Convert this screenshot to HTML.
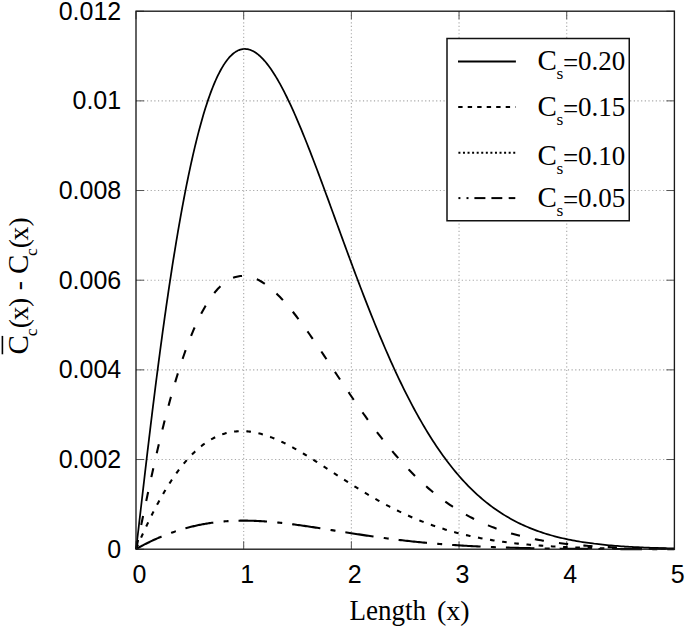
<!DOCTYPE html>
<html><head><meta charset="utf-8"><style>
html,body{margin:0;padding:0;background:#fff;}
svg{display:block;}
</style></head><body>
<svg width="685" height="629" viewBox="0 0 685 629">
<rect width="685" height="629" fill="#fff"/>
<g stroke="#a8a8a8" stroke-width="1.1" stroke-dasharray="1.2 2.46" fill="none">
<line x1="243.68" y1="11.2" x2="243.68" y2="549.2"/>
<line x1="351.36" y1="11.2" x2="351.36" y2="549.2"/>
<line x1="459.04" y1="11.2" x2="459.04" y2="549.2"/>
<line x1="566.72" y1="11.2" x2="566.72" y2="549.2"/>
<line x1="136.0" y1="459.53" x2="674.4" y2="459.53"/>
<line x1="136.0" y1="369.87" x2="674.4" y2="369.87"/>
<line x1="136.0" y1="280.20" x2="674.4" y2="280.20"/>
<line x1="136.0" y1="190.53" x2="674.4" y2="190.53"/>
<line x1="136.0" y1="100.87" x2="674.4" y2="100.87"/>
</g>
<g stroke="#555" stroke-width="1" fill="none">
<line x1="136.00" y1="549.2" x2="136.00" y2="541.2"/>
<line x1="136.00" y1="11.2" x2="136.00" y2="19.2"/>
<line x1="243.68" y1="549.2" x2="243.68" y2="541.2"/>
<line x1="243.68" y1="11.2" x2="243.68" y2="19.2"/>
<line x1="351.36" y1="549.2" x2="351.36" y2="541.2"/>
<line x1="351.36" y1="11.2" x2="351.36" y2="19.2"/>
<line x1="459.04" y1="549.2" x2="459.04" y2="541.2"/>
<line x1="459.04" y1="11.2" x2="459.04" y2="19.2"/>
<line x1="566.72" y1="549.2" x2="566.72" y2="541.2"/>
<line x1="566.72" y1="11.2" x2="566.72" y2="19.2"/>
<line x1="674.40" y1="549.2" x2="674.40" y2="541.2"/>
<line x1="674.40" y1="11.2" x2="674.40" y2="19.2"/>
<line x1="136.0" y1="549.20" x2="144.0" y2="549.20"/>
<line x1="674.4" y1="549.20" x2="666.4" y2="549.20"/>
<line x1="136.0" y1="459.53" x2="144.0" y2="459.53"/>
<line x1="674.4" y1="459.53" x2="666.4" y2="459.53"/>
<line x1="136.0" y1="369.87" x2="144.0" y2="369.87"/>
<line x1="674.4" y1="369.87" x2="666.4" y2="369.87"/>
<line x1="136.0" y1="280.20" x2="144.0" y2="280.20"/>
<line x1="674.4" y1="280.20" x2="666.4" y2="280.20"/>
<line x1="136.0" y1="190.53" x2="144.0" y2="190.53"/>
<line x1="674.4" y1="190.53" x2="666.4" y2="190.53"/>
<line x1="136.0" y1="100.87" x2="144.0" y2="100.87"/>
<line x1="674.4" y1="100.87" x2="666.4" y2="100.87"/>
<line x1="136.0" y1="11.20" x2="144.0" y2="11.20"/>
<line x1="674.4" y1="11.20" x2="666.4" y2="11.20"/>
</g>
<g stroke="#000" fill="none" stroke-linejoin="round">

<path d="M136.00,549.20 L136.04,548.96 L136.11,548.43 L136.22,547.66 L136.34,546.70 L136.49,545.55 L136.65,544.24 L136.84,542.77 L137.03,541.14 L137.25,539.38 L137.48,537.47 L137.72,535.44 L137.98,533.27 L138.25,530.99 L138.53,528.58 L138.83,526.06 L139.13,523.43 L139.45,520.69 L139.78,517.85 L140.13,514.91 L140.48,511.87 L140.84,508.73 L141.22,505.50 L141.60,502.18 L142.00,498.77 L142.40,495.28 L142.82,491.71 L143.24,488.05 L143.67,484.32 L144.12,480.51 L144.57,476.63 L145.03,472.68 L145.50,468.66 L145.98,464.58 L146.47,460.43 L146.97,456.22 L147.47,451.95 L147.99,447.62 L148.51,443.24 L149.04,438.81 L149.58,434.32 L150.13,429.78 L150.68,425.20 L151.24,420.58 L151.82,415.91 L152.39,411.20 L152.98,406.45 L153.58,401.66 L154.18,396.84 L154.79,391.99 L155.40,387.11 L156.03,382.20 L156.66,377.26 L157.30,372.30 L157.95,367.32 L158.60,362.31 L159.26,357.29 L159.93,352.25 L160.61,347.20 L161.29,342.13 L161.98,337.05 L162.67,331.97 L163.38,326.88 L164.09,321.78 L164.80,316.68 L165.53,311.58 L166.26,306.49 L166.99,301.39 L167.74,296.30 L168.49,291.22 L169.24,286.15 L170.01,281.08 L170.78,276.03 L171.55,271.00 L172.33,265.98 L173.12,260.98 L173.92,256.00 L174.72,251.04 L175.53,246.10 L176.34,241.20 L177.16,236.31 L177.99,231.46 L178.82,226.64 L179.66,221.85 L180.50,217.10 L181.35,212.38 L182.21,207.71 L183.07,203.07 L183.94,198.47 L184.82,193.92 L185.70,189.41 L186.58,184.94 L187.48,180.53 L188.37,176.17 L189.28,171.85 L190.19,167.59 L191.10,163.39 L192.03,159.24 L192.95,155.15 L193.88,151.11 L194.82,147.14 L195.77,143.23 L196.72,139.38 L197.67,135.60 L198.63,131.89 L199.60,128.24 L200.57,124.66 L201.55,121.15 L202.53,117.71 L203.52,114.34 L204.51,111.05 L205.51,107.84 L206.52,104.69 L207.53,101.63 L208.54,98.64 L209.56,95.74 L210.59,92.91 L211.62,90.17 L212.66,87.50 L213.70,84.92 L214.75,82.43 L215.80,80.02 L216.86,77.69 L217.92,75.45 L218.99,73.30 L220.06,71.24 L221.14,69.26 L222.23,67.37 L223.31,65.58 L224.41,63.87 L225.51,62.25 L226.61,60.73 L227.72,59.30 L228.83,57.95 L229.95,56.71 L231.08,55.55 L232.21,54.49 L233.34,53.52 L234.48,52.64 L235.63,51.86 L236.78,51.17 L237.93,50.57 L239.09,50.07 L240.25,49.66 L241.42,49.35 L242.60,49.13 L243.77,49.00 L244.96,48.96 L246.15,49.02 L247.34,49.17 L248.54,49.42 L249.74,49.75 L250.95,50.18 L252.16,50.70 L253.38,51.31 L254.60,52.01 L255.83,52.80 L257.06,53.68 L258.29,54.65 L259.53,55.71 L260.78,56.85 L262.03,58.09 L263.28,59.40 L264.54,60.80 L265.81,62.29 L267.08,63.86 L268.35,65.51 L269.63,67.25 L270.91,69.06 L272.20,70.96 L273.49,72.93 L274.78,74.98 L276.09,77.11 L277.39,79.31 L278.70,81.59 L280.02,83.94 L281.33,86.36 L282.66,88.85 L283.99,91.42 L285.32,94.05 L286.66,96.74 L288.00,99.51 L289.34,102.33 L290.69,105.22 L292.05,108.17 L293.41,111.18 L294.77,114.25 L296.14,117.38 L297.51,120.56 L298.89,123.79 L300.27,127.08 L301.65,130.42 L303.04,133.80 L304.44,137.24 L305.84,140.72 L307.24,144.25 L308.65,147.82 L310.06,151.43 L311.47,155.08 L312.89,158.77 L314.32,162.50 L315.75,166.26 L317.18,170.05 L318.62,173.88 L320.06,177.73 L321.50,181.62 L322.95,185.53 L324.41,189.47 L325.87,193.43 L327.33,197.41 L328.80,201.42 L330.27,205.44 L331.74,209.48 L333.22,213.54 L334.71,217.61 L336.19,221.69 L337.69,225.78 L339.18,229.88 L340.68,233.99 L342.19,238.11 L343.69,242.23 L345.21,246.36 L346.72,250.48 L348.24,254.61 L349.77,258.73 L351.30,262.86 L352.83,266.97 L354.37,271.09 L355.91,275.19 L357.45,279.29 L359.00,283.38 L360.56,287.46 L362.11,291.52 L363.68,295.57 L365.24,299.61 L366.81,303.63 L368.38,307.64 L369.96,311.62 L371.54,315.59 L373.13,319.53 L374.72,323.46 L376.31,327.36 L377.91,331.24 L379.51,335.09 L381.12,338.91 L382.73,342.71 L384.34,346.49 L385.96,350.23 L387.58,353.94 L389.20,357.63 L390.83,361.28 L392.46,364.90 L394.10,368.49 L395.74,372.04 L397.39,375.56 L399.03,379.05 L400.69,382.50 L402.34,385.91 L404.00,389.29 L405.67,392.63 L407.33,395.93 L409.01,399.19 L410.68,402.42 L412.36,405.61 L414.04,408.75 L415.73,411.86 L417.42,414.93 L419.12,417.95 L420.82,420.94 L422.52,423.88 L424.22,426.79 L425.93,429.65 L427.65,432.47 L429.37,435.25 L431.09,437.98 L432.81,440.68 L434.54,443.33 L436.27,445.94 L438.01,448.50 L439.75,451.03 L441.49,453.51 L443.24,455.95 L444.99,458.35 L446.75,460.71 L448.51,463.02 L450.27,465.29 L452.03,467.53 L453.80,469.72 L455.58,471.86 L457.35,473.97 L459.14,476.04 L460.92,478.06 L462.71,480.05 L464.50,481.99 L466.30,483.90 L468.10,485.77 L469.90,487.59 L471.71,489.38 L473.52,491.13 L475.33,492.84 L477.15,494.52 L478.97,496.15 L480.79,497.75 L482.62,499.32 L484.45,500.84 L486.29,502.33 L488.13,503.79 L489.97,505.21 L491.82,506.60 L493.67,507.95 L495.52,509.27 L497.38,510.56 L499.24,511.81 L501.11,513.03 L502.97,514.22 L504.85,515.38 L506.72,516.51 L508.60,517.61 L510.48,518.68 L512.37,519.72 L514.26,520.73 L516.15,521.72 L518.05,522.68 L519.95,523.60 L521.85,524.51 L523.76,525.39 L525.67,526.24 L527.58,527.06 L529.50,527.87 L531.42,528.65 L533.35,529.40 L535.28,530.13 L537.21,530.84 L539.14,531.53 L541.08,532.20 L543.02,532.84 L544.97,533.47 L546.92,534.07 L548.87,534.66 L550.83,535.23 L552.79,535.77 L554.75,536.30 L556.72,536.81 L558.69,537.31 L560.66,537.79 L562.64,538.25 L564.62,538.70 L566.60,539.13 L568.59,539.54 L570.58,539.94 L572.57,540.33 L574.57,540.70 L576.57,541.06 L578.58,541.41 L580.58,541.74 L582.59,542.06 L584.61,542.37 L586.63,542.67 L588.65,542.95 L590.67,543.23 L592.70,543.49 L594.73,543.75 L596.77,543.99 L598.81,544.23 L600.85,544.45 L602.89,544.67 L604.94,544.88 L606.99,545.08 L609.05,545.27 L611.11,545.45 L613.17,545.63 L615.23,545.80 L617.30,545.96 L619.37,546.11 L621.45,546.26 L623.53,546.40 L625.61,546.54 L627.69,546.67 L629.78,546.79 L631.87,546.91 L633.97,547.03 L636.07,547.13 L638.17,547.24 L640.27,547.34 L642.38,547.43 L644.49,547.52 L646.61,547.61 L648.73,547.69 L650.85,547.77 L652.97,547.84 L655.10,547.91 L657.23,547.98 L659.37,548.05 L661.50,548.11 L663.65,548.17 L665.79,548.22 L667.94,548.28 L670.09,548.33 L672.24,548.37 L674.40,548.42" stroke-width="1.75"/>
<path d="M136.00,549.20 L136.04,549.07 L136.11,548.78 L136.22,548.36 L136.34,547.83 L136.49,547.20 L136.65,546.48 L136.84,545.67 L137.03,544.77 L137.25,543.79 L137.48,542.74 L137.72,541.61 L137.98,540.41 L138.25,539.14 L138.53,537.80 L138.83,536.40 L139.13,534.94 L139.45,533.42 L139.78,531.84 L140.13,530.20 L140.48,528.51 L140.84,526.76 L141.22,524.97 L141.60,523.12 L142.00,521.22 L142.40,519.27 L142.82,517.28 L143.24,515.25 L143.67,513.17 L144.12,511.05 L144.57,508.89 L145.03,506.69 L145.50,504.45 L145.98,502.17 L146.47,499.86 L146.97,497.51 L147.47,495.14 L147.99,492.73 L148.51,490.29 L149.04,487.82 L149.58,485.32 L150.13,482.79 L150.68,480.24 L151.24,477.67 L151.82,475.07 L152.39,472.45 L152.98,469.81 L153.58,467.15 L154.18,464.47 L154.79,461.77 L155.40,459.06 L156.03,456.33 L156.66,453.59 L157.30,450.83 L157.95,448.06 L158.60,445.29 L159.26,442.50 L159.93,439.71 L160.61,436.90 L161.29,434.10 L161.98,431.28 L162.67,428.47 L163.38,425.65 L164.09,422.83 L164.80,420.01 L165.53,417.19 L166.26,414.37 L166.99,411.55 L167.74,408.74 L168.49,405.93 L169.24,403.13 L170.01,400.34 L170.78,397.56 L171.55,394.78 L172.33,392.02 L173.12,389.26 L173.92,386.52 L174.72,383.79 L175.53,381.08 L176.34,378.38 L177.16,375.70 L177.99,373.04 L178.82,370.40 L179.66,367.77 L180.50,365.17 L181.35,362.58 L182.21,360.02 L183.07,357.49 L183.94,354.98 L184.82,352.49 L185.70,350.03 L186.58,347.60 L187.48,345.19 L188.37,342.81 L189.28,340.47 L190.19,338.15 L191.10,335.87 L192.03,333.62 L192.95,331.40 L193.88,329.21 L194.82,327.06 L195.77,324.95 L196.72,322.87 L197.67,320.83 L198.63,318.83 L199.60,316.87 L200.57,314.94 L201.55,313.06 L202.53,311.21 L203.52,309.41 L204.51,307.65 L205.51,305.93 L206.52,304.25 L207.53,302.62 L208.54,301.03 L209.56,299.49 L210.59,297.99 L211.62,296.54 L212.66,295.14 L213.70,293.78 L214.75,292.47 L215.80,291.20 L216.86,289.99 L217.92,288.82 L218.99,287.70 L220.06,286.63 L221.14,285.61 L222.23,284.64 L223.31,283.72 L224.41,282.85 L225.51,282.03 L226.61,281.27 L227.72,280.55 L228.83,279.88 L229.95,279.27 L231.08,278.71 L232.21,278.19 L233.34,277.73 L234.48,277.33 L235.63,276.97 L236.78,276.66 L237.93,276.41 L239.09,276.21 L240.25,276.06 L241.42,275.96 L242.60,275.91 L243.77,275.92 L244.96,275.97 L246.15,276.08 L247.34,276.24 L248.54,276.45 L249.74,276.70 L250.95,277.01 L252.16,277.37 L253.38,277.78 L254.60,278.24 L255.83,278.74 L257.06,279.30 L258.29,279.90 L259.53,280.55 L260.78,281.25 L262.03,282.00 L263.28,282.79 L264.54,283.63 L265.81,284.51 L267.08,285.44 L268.35,286.41 L269.63,287.43 L270.91,288.49 L272.20,289.59 L273.49,290.74 L274.78,291.92 L276.09,293.15 L277.39,294.42 L278.70,295.73 L280.02,297.07 L281.33,298.46 L282.66,299.88 L283.99,301.34 L285.32,302.83 L286.66,304.36 L288.00,305.93 L289.34,307.53 L290.69,309.16 L292.05,310.82 L293.41,312.52 L294.77,314.24 L296.14,316.00 L297.51,317.78 L298.89,319.60 L300.27,321.44 L301.65,323.30 L303.04,325.20 L304.44,327.11 L305.84,329.05 L307.24,331.02 L308.65,333.00 L310.06,335.01 L311.47,337.04 L312.89,339.08 L314.32,341.15 L315.75,343.23 L317.18,345.33 L318.62,347.45 L320.06,349.58 L321.50,351.72 L322.95,353.88 L324.41,356.05 L325.87,358.23 L327.33,360.43 L328.80,362.63 L330.27,364.84 L331.74,367.06 L333.22,369.28 L334.71,371.51 L336.19,373.75 L337.69,375.99 L339.18,378.24 L340.68,380.49 L342.19,382.74 L343.69,384.99 L345.21,387.24 L346.72,389.49 L348.24,391.74 L349.77,393.99 L351.30,396.24 L352.83,398.48 L354.37,400.72 L355.91,402.95 L357.45,405.18 L359.00,407.40 L360.56,409.61 L362.11,411.82 L363.68,414.01 L365.24,416.20 L366.81,418.38 L368.38,420.55 L369.96,422.70 L371.54,424.85 L373.13,426.98 L374.72,429.10 L376.31,431.21 L377.91,433.30 L379.51,435.38 L381.12,437.45 L382.73,439.49 L384.34,441.53 L385.96,443.54 L387.58,445.54 L389.20,447.52 L390.83,449.49 L392.46,451.43 L394.10,453.36 L395.74,455.27 L397.39,457.16 L399.03,459.03 L400.69,460.88 L402.34,462.71 L404.00,464.52 L405.67,466.31 L407.33,468.08 L409.01,469.83 L410.68,471.55 L412.36,473.26 L414.04,474.94 L415.73,476.60 L417.42,478.24 L419.12,479.85 L420.82,481.45 L422.52,483.02 L424.22,484.57 L425.93,486.09 L427.65,487.60 L429.37,489.08 L431.09,490.53 L432.81,491.97 L434.54,493.38 L436.27,494.77 L438.01,496.13 L439.75,497.47 L441.49,498.79 L443.24,500.09 L444.99,501.36 L446.75,502.61 L448.51,503.84 L450.27,505.05 L452.03,506.23 L453.80,507.39 L455.58,508.53 L457.35,509.65 L459.14,510.74 L460.92,511.81 L462.71,512.87 L464.50,513.89 L466.30,514.90 L468.10,515.89 L469.90,516.85 L471.71,517.80 L473.52,518.72 L475.33,519.63 L477.15,520.51 L478.97,521.38 L480.79,522.22 L482.62,523.04 L484.45,523.85 L486.29,524.64 L488.13,525.40 L489.97,526.15 L491.82,526.88 L493.67,527.60 L495.52,528.29 L497.38,528.97 L499.24,529.63 L501.11,530.27 L502.97,530.90 L504.85,531.51 L506.72,532.10 L508.60,532.68 L510.48,533.24 L512.37,533.79 L514.26,534.32 L516.15,534.83 L518.05,535.34 L519.95,535.82 L521.85,536.30 L523.76,536.76 L525.67,537.20 L527.58,537.64 L529.50,538.06 L531.42,538.47 L533.35,538.86 L535.28,539.25 L537.21,539.62 L539.14,539.98 L541.08,540.33 L543.02,540.67 L544.97,540.99 L546.92,541.31 L548.87,541.62 L550.83,541.91 L552.79,542.20 L554.75,542.47 L556.72,542.74 L558.69,543.00 L560.66,543.25 L562.64,543.49 L564.62,543.73 L566.60,543.95 L568.59,544.17 L570.58,544.38 L572.57,544.58 L574.57,544.77 L576.57,544.96 L578.58,545.14 L580.58,545.31 L582.59,545.48 L584.61,545.64 L586.63,545.80 L588.65,545.95 L590.67,546.09 L592.70,546.23 L594.73,546.36 L596.77,546.49 L598.81,546.61 L600.85,546.73 L602.89,546.84 L604.94,546.95 L606.99,547.05 L609.05,547.15 L611.11,547.25 L613.17,547.34 L615.23,547.43 L617.30,547.51 L619.37,547.59 L621.45,547.67 L623.53,547.74 L625.61,547.82 L627.69,547.88 L629.78,547.95 L631.87,548.01 L633.97,548.07 L636.07,548.13 L638.17,548.18 L640.27,548.23 L642.38,548.28 L644.49,548.33 L646.61,548.37 L648.73,548.41 L650.85,548.46 L652.97,548.49 L655.10,548.53 L657.23,548.57 L659.37,548.60 L661.50,548.63 L663.65,548.66 L665.79,548.69 L667.94,548.72 L670.09,548.74 L672.24,548.77 L674.40,548.79" stroke-width="2.1" stroke-dasharray="9.2 15.27" stroke-dashoffset="-0.28"/>
<path d="M136.00,549.20 L136.04,549.12 L136.11,548.95 L136.22,548.71 L136.34,548.43 L136.49,548.09 L136.65,547.71 L136.84,547.29 L137.03,546.84 L137.25,546.35 L137.48,545.82 L137.72,545.26 L137.98,544.68 L138.25,544.06 L138.53,543.41 L138.83,542.74 L139.13,542.04 L139.45,541.32 L139.78,540.57 L140.13,539.80 L140.48,539.01 L140.84,538.20 L141.22,537.36 L141.60,536.50 L142.00,535.63 L142.40,534.73 L142.82,533.82 L143.24,532.89 L143.67,531.95 L144.12,530.98 L144.57,530.00 L145.03,529.01 L145.50,528.00 L145.98,526.98 L146.47,525.94 L146.97,524.89 L147.47,523.83 L147.99,522.75 L148.51,521.67 L149.04,520.57 L149.58,519.46 L150.13,518.35 L150.68,517.22 L151.24,516.09 L151.82,514.94 L152.39,513.79 L152.98,512.63 L153.58,511.47 L154.18,510.30 L154.79,509.12 L155.40,507.94 L156.03,506.75 L156.66,505.56 L157.30,504.36 L157.95,503.16 L158.60,501.96 L159.26,500.75 L159.93,499.54 L160.61,498.33 L161.29,497.12 L161.98,495.91 L162.67,494.70 L163.38,493.49 L164.09,492.27 L164.80,491.06 L165.53,489.85 L166.26,488.65 L166.99,487.44 L167.74,486.24 L168.49,485.04 L169.24,483.85 L170.01,482.66 L170.78,481.47 L171.55,480.29 L172.33,479.12 L173.12,477.95 L173.92,476.78 L174.72,475.62 L175.53,474.48 L176.34,473.33 L177.16,472.20 L177.99,471.07 L178.82,469.96 L179.66,468.85 L180.50,467.75 L181.35,466.66 L182.21,465.58 L183.07,464.51 L183.94,463.46 L184.82,462.41 L185.70,461.38 L186.58,460.36 L187.48,459.35 L188.37,458.35 L189.28,457.37 L190.19,456.40 L191.10,455.45 L192.03,454.51 L192.95,453.58 L193.88,452.67 L194.82,451.78 L195.77,450.90 L196.72,450.03 L197.67,449.18 L198.63,448.35 L199.60,447.54 L200.57,446.74 L201.55,445.96 L202.53,445.20 L203.52,444.45 L204.51,443.73 L205.51,443.02 L206.52,442.33 L207.53,441.66 L208.54,441.01 L209.56,440.38 L210.59,439.76 L211.62,439.17 L212.66,438.60 L213.70,438.04 L214.75,437.51 L215.80,437.00 L216.86,436.51 L217.92,436.04 L218.99,435.59 L220.06,435.16 L221.14,434.75 L222.23,434.37 L223.31,434.00 L224.41,433.66 L225.51,433.34 L226.61,433.04 L227.72,432.76 L228.83,432.50 L229.95,432.27 L231.08,432.06 L232.21,431.87 L233.34,431.70 L234.48,431.55 L235.63,431.43 L236.78,431.33 L237.93,431.25 L239.09,431.19 L240.25,431.16 L241.42,431.14 L242.60,431.15 L243.77,431.18 L244.96,431.23 L246.15,431.31 L247.34,431.40 L248.54,431.52 L249.74,431.66 L250.95,431.81 L252.16,432.00 L253.38,432.20 L254.60,432.42 L255.83,432.66 L257.06,432.93 L258.29,433.21 L259.53,433.52 L260.78,433.84 L262.03,434.19 L263.28,434.55 L264.54,434.94 L265.81,435.34 L267.08,435.77 L268.35,436.21 L269.63,436.67 L270.91,437.15 L272.20,437.64 L273.49,438.16 L274.78,438.69 L276.09,439.24 L277.39,439.81 L278.70,440.39 L280.02,440.99 L281.33,441.61 L282.66,442.24 L283.99,442.89 L285.32,443.55 L286.66,444.23 L288.00,444.92 L289.34,445.63 L290.69,446.35 L292.05,447.08 L293.41,447.83 L294.77,448.59 L296.14,449.36 L297.51,450.15 L298.89,450.95 L300.27,451.75 L301.65,452.57 L303.04,453.40 L304.44,454.24 L305.84,455.09 L307.24,455.95 L308.65,456.82 L310.06,457.70 L311.47,458.59 L312.89,459.48 L314.32,460.39 L315.75,461.29 L317.18,462.21 L318.62,463.13 L320.06,464.06 L321.50,465.00 L322.95,465.94 L324.41,466.88 L325.87,467.83 L327.33,468.79 L328.80,469.75 L330.27,470.71 L331.74,471.67 L333.22,472.64 L334.71,473.61 L336.19,474.58 L337.69,475.55 L339.18,476.53 L340.68,477.50 L342.19,478.48 L343.69,479.45 L345.21,480.43 L346.72,481.40 L348.24,482.38 L349.77,483.35 L351.30,484.32 L352.83,485.29 L354.37,486.26 L355.91,487.23 L357.45,488.19 L359.00,489.15 L360.56,490.11 L362.11,491.06 L363.68,492.01 L365.24,492.95 L366.81,493.89 L368.38,494.82 L369.96,495.75 L371.54,496.68 L373.13,497.60 L374.72,498.51 L376.31,499.42 L377.91,500.32 L379.51,501.21 L381.12,502.10 L382.73,502.98 L384.34,503.85 L385.96,504.72 L387.58,505.58 L389.20,506.43 L390.83,507.27 L392.46,508.11 L394.10,508.93 L395.74,509.75 L397.39,510.56 L399.03,511.36 L400.69,512.16 L402.34,512.94 L404.00,513.71 L405.67,514.48 L407.33,515.24 L409.01,515.98 L410.68,516.72 L412.36,517.45 L414.04,518.16 L415.73,518.87 L417.42,519.57 L419.12,520.26 L420.82,520.94 L422.52,521.61 L424.22,522.27 L425.93,522.92 L427.65,523.56 L429.37,524.19 L431.09,524.80 L432.81,525.41 L434.54,526.01 L436.27,526.60 L438.01,527.18 L439.75,527.75 L441.49,528.31 L443.24,528.86 L444.99,529.40 L446.75,529.93 L448.51,530.45 L450.27,530.95 L452.03,531.45 L453.80,531.94 L455.58,532.42 L457.35,532.90 L459.14,533.36 L460.92,533.81 L462.71,534.25 L464.50,534.68 L466.30,535.11 L468.10,535.52 L469.90,535.93 L471.71,536.32 L473.52,536.71 L475.33,537.09 L477.15,537.46 L478.97,537.82 L480.79,538.18 L482.62,538.52 L484.45,538.86 L486.29,539.19 L488.13,539.51 L489.97,539.82 L491.82,540.12 L493.67,540.42 L495.52,540.71 L497.38,540.99 L499.24,541.26 L501.11,541.53 L502.97,541.79 L504.85,542.04 L506.72,542.29 L508.60,542.53 L510.48,542.76 L512.37,542.99 L514.26,543.21 L516.15,543.42 L518.05,543.63 L519.95,543.83 L521.85,544.02 L523.76,544.21 L525.67,544.39 L527.58,544.57 L529.50,544.75 L531.42,544.91 L533.35,545.07 L535.28,545.23 L537.21,545.38 L539.14,545.53 L541.08,545.67 L543.02,545.81 L544.97,545.94 L546.92,546.07 L548.87,546.20 L550.83,546.32 L552.79,546.43 L554.75,546.55 L556.72,546.65 L558.69,546.76 L560.66,546.86 L562.64,546.96 L564.62,547.05 L566.60,547.14 L568.59,547.23 L570.58,547.31 L572.57,547.39 L574.57,547.47 L576.57,547.55 L578.58,547.62 L580.58,547.69 L582.59,547.76 L584.61,547.82 L586.63,547.88 L588.65,547.94 L590.67,548.00 L592.70,548.05 L594.73,548.11 L596.77,548.16 L598.81,548.20 L600.85,548.25 L602.89,548.30 L604.94,548.34 L606.99,548.38 L609.05,548.42 L611.11,548.46 L613.17,548.49 L615.23,548.53 L617.30,548.56 L619.37,548.59 L621.45,548.62 L623.53,548.65 L625.61,548.68 L627.69,548.70 L629.78,548.73 L631.87,548.75 L633.97,548.77 L636.07,548.80 L638.17,548.82 L640.27,548.84 L642.38,548.86 L644.49,548.87 L646.61,548.89 L648.73,548.91 L650.85,548.92 L652.97,548.94 L655.10,548.95 L657.23,548.97 L659.37,548.98 L661.50,548.99 L663.65,549.00 L665.79,549.01 L667.94,549.02 L670.09,549.03 L672.24,549.04 L674.40,549.05" stroke-width="2.1" stroke-dasharray="4.6 7.64" stroke-dashoffset="-0.36"/>
<path d="M136.00,549.20 L136.04,549.17 L136.11,549.12 L136.22,549.06 L136.34,548.98 L136.49,548.89 L136.65,548.78 L136.84,548.67 L137.03,548.55 L137.25,548.43 L137.48,548.29 L137.72,548.15 L137.98,548.00 L138.25,547.85 L138.53,547.68 L138.83,547.52 L139.13,547.34 L139.45,547.16 L139.78,546.98 L140.13,546.79 L140.48,546.60 L140.84,546.40 L141.22,546.20 L141.60,545.99 L142.00,545.78 L142.40,545.56 L142.82,545.34 L143.24,545.12 L143.67,544.89 L144.12,544.66 L144.57,544.43 L145.03,544.19 L145.50,543.95 L145.98,543.71 L146.47,543.46 L146.97,543.21 L147.47,542.96 L147.99,542.71 L148.51,542.45 L149.04,542.19 L149.58,541.93 L150.13,541.67 L150.68,541.40 L151.24,541.14 L151.82,540.87 L152.39,540.60 L152.98,540.32 L153.58,540.05 L154.18,539.77 L154.79,539.50 L155.40,539.22 L156.03,538.94 L156.66,538.66 L157.30,538.38 L157.95,538.10 L158.60,537.82 L159.26,537.53 L159.93,537.25 L160.61,536.97 L161.29,536.68 L161.98,536.40 L162.67,536.11 L163.38,535.83 L164.09,535.55 L164.80,535.26 L165.53,534.98 L166.26,534.69 L166.99,534.41 L167.74,534.13 L168.49,533.85 L169.24,533.56 L170.01,533.28 L170.78,533.00 L171.55,532.73 L172.33,532.45 L173.12,532.17 L173.92,531.90 L174.72,531.62 L175.53,531.35 L176.34,531.08 L177.16,530.81 L177.99,530.54 L178.82,530.28 L179.66,530.02 L180.50,529.75 L181.35,529.50 L182.21,529.24 L183.07,528.98 L183.94,528.73 L184.82,528.48 L185.70,528.24 L186.58,527.99 L187.48,527.75 L188.37,527.51 L189.28,527.27 L190.19,527.04 L191.10,526.81 L192.03,526.58 L192.95,526.36 L193.88,526.14 L194.82,525.92 L195.77,525.71 L196.72,525.50 L197.67,525.29 L198.63,525.09 L199.60,524.89 L200.57,524.70 L201.55,524.50 L202.53,524.32 L203.52,524.13 L204.51,523.95 L205.51,523.78 L206.52,523.61 L207.53,523.44 L208.54,523.28 L209.56,523.12 L210.59,522.97 L211.62,522.82 L212.66,522.67 L213.70,522.54 L214.75,522.40 L215.80,522.27 L216.86,522.14 L217.92,522.02 L218.99,521.91 L220.06,521.80 L221.14,521.69 L222.23,521.59 L223.31,521.49 L224.41,521.40 L225.51,521.32 L226.61,521.24 L227.72,521.16 L228.83,521.09 L229.95,521.02 L231.08,520.96 L232.21,520.91 L233.34,520.86 L234.48,520.81 L235.63,520.77 L236.78,520.74 L237.93,520.71 L239.09,520.69 L240.25,520.67 L241.42,520.66 L242.60,520.65 L243.77,520.65 L244.96,520.65 L246.15,520.66 L247.34,520.67 L248.54,520.69 L249.74,520.71 L250.95,520.74 L252.16,520.78 L253.38,520.82 L254.60,520.86 L255.83,520.91 L257.06,520.96 L258.29,521.02 L259.53,521.09 L260.78,521.16 L262.03,521.23 L263.28,521.31 L264.54,521.40 L265.81,521.49 L267.08,521.58 L268.35,521.68 L269.63,521.78 L270.91,521.89 L272.20,522.00 L273.49,522.12 L274.78,522.24 L276.09,522.37 L277.39,522.50 L278.70,522.63 L280.02,522.77 L281.33,522.91 L282.66,523.06 L283.99,523.21 L285.32,523.37 L286.66,523.52 L288.00,523.69 L289.34,523.85 L290.69,524.02 L292.05,524.19 L293.41,524.37 L294.77,524.55 L296.14,524.73 L297.51,524.92 L298.89,525.11 L300.27,525.30 L301.65,525.50 L303.04,525.70 L304.44,525.90 L305.84,526.10 L307.24,526.31 L308.65,526.52 L310.06,526.73 L311.47,526.94 L312.89,527.16 L314.32,527.37 L315.75,527.59 L317.18,527.82 L318.62,528.04 L320.06,528.26 L321.50,528.49 L322.95,528.72 L324.41,528.95 L325.87,529.18 L327.33,529.41 L328.80,529.65 L330.27,529.88 L331.74,530.12 L333.22,530.35 L334.71,530.59 L336.19,530.83 L337.69,531.07 L339.18,531.30 L340.68,531.54 L342.19,531.78 L343.69,532.02 L345.21,532.26 L346.72,532.50 L348.24,532.74 L349.77,532.98 L351.30,533.22 L352.83,533.46 L354.37,533.70 L355.91,533.94 L357.45,534.18 L359.00,534.41 L360.56,534.65 L362.11,534.88 L363.68,535.12 L365.24,535.35 L366.81,535.59 L368.38,535.82 L369.96,536.05 L371.54,536.28 L373.13,536.50 L374.72,536.73 L376.31,536.96 L377.91,537.18 L379.51,537.40 L381.12,537.62 L382.73,537.84 L384.34,538.06 L385.96,538.27 L387.58,538.49 L389.20,538.70 L390.83,538.91 L392.46,539.12 L394.10,539.32 L395.74,539.53 L397.39,539.73 L399.03,539.93 L400.69,540.12 L402.34,540.32 L404.00,540.51 L405.67,540.70 L407.33,540.89 L409.01,541.08 L410.68,541.26 L412.36,541.44 L414.04,541.62 L415.73,541.80 L417.42,541.97 L419.12,542.14 L420.82,542.31 L422.52,542.48 L424.22,542.64 L425.93,542.80 L427.65,542.96 L429.37,543.12 L431.09,543.27 L432.81,543.42 L434.54,543.57 L436.27,543.72 L438.01,543.86 L439.75,544.00 L441.49,544.14 L443.24,544.28 L444.99,544.41 L446.75,544.54 L448.51,544.67 L450.27,544.80 L452.03,544.92 L453.80,545.04 L455.58,545.16 L457.35,545.28 L459.14,545.39 L460.92,545.50 L462.71,545.61 L464.50,545.72 L466.30,545.82 L468.10,545.93 L469.90,546.03 L471.71,546.12 L473.52,546.22 L475.33,546.31 L477.15,546.40 L478.97,546.49 L480.79,546.58 L482.62,546.66 L484.45,546.75 L486.29,546.83 L488.13,546.91 L489.97,546.98 L491.82,547.06 L493.67,547.13 L495.52,547.20 L497.38,547.27 L499.24,547.33 L501.11,547.40 L502.97,547.46 L504.85,547.52 L506.72,547.58 L508.60,547.64 L510.48,547.70 L512.37,547.75 L514.26,547.80 L516.15,547.86 L518.05,547.91 L519.95,547.95 L521.85,548.00 L523.76,548.05 L525.67,548.09 L527.58,548.13 L529.50,548.17 L531.42,548.21 L533.35,548.25 L535.28,548.29 L537.21,548.33 L539.14,548.36 L541.08,548.40 L543.02,548.43 L544.97,548.46 L546.92,548.49 L548.87,548.52 L550.83,548.55 L552.79,548.58 L554.75,548.60 L556.72,548.63 L558.69,548.65 L560.66,548.68 L562.64,548.70 L564.62,548.72 L566.60,548.74 L568.59,548.76 L570.58,548.78 L572.57,548.80 L574.57,548.82 L576.57,548.83 L578.58,548.85 L580.58,548.87 L582.59,548.88 L584.61,548.90 L586.63,548.91 L588.65,548.93 L590.67,548.94 L592.70,548.95 L594.73,548.96 L596.77,548.97 L598.81,548.99 L600.85,549.00 L602.89,549.01 L604.94,549.02 L606.99,549.02 L609.05,549.03 L611.11,549.04 L613.17,549.05 L615.23,549.06 L617.30,549.06 L619.37,549.07 L621.45,549.08 L623.53,549.08 L625.61,549.09 L627.69,549.10 L629.78,549.10 L631.87,549.11 L633.97,549.11 L636.07,549.12 L638.17,549.12 L640.27,549.13 L642.38,549.13 L644.49,549.13 L646.61,549.14 L648.73,549.14 L650.85,549.14 L652.97,549.15 L655.10,549.15 L657.23,549.15 L659.37,549.16 L661.50,549.16 L663.65,549.16 L665.79,549.16 L667.94,549.17 L670.09,549.17 L672.24,549.17 L674.40,549.17" stroke-width="2.1" stroke-dasharray="28.5 10.3 5 10"/>

</g>
<rect x="136.0" y="11.2" width="538.40" height="538.00" fill="none" stroke="#1a1a1a" stroke-width="1.35"/>
<g stroke="#000" fill="none">
<rect x="447" y="38.5" width="182.25" height="182.25" fill="#fff" stroke="#111" stroke-width="1.5"/>
<line x1="458" y1="61.4" x2="515.9" y2="61.4" stroke-width="2"/>
<line x1="458.2" y1="106.9" x2="515.6" y2="106.9" stroke-width="2" stroke-dasharray="4.4 5.1"/>
<line x1="458.4" y1="152.8" x2="515.3" y2="152.8" stroke-width="2" stroke-dasharray="2 2.57"/>
<line x1="458.4" y1="198.1" x2="460.4" y2="198.1" stroke-width="2"/>
<line x1="466.5" y1="198.1" x2="468.5" y2="198.1" stroke-width="2"/>
<line x1="474.4" y1="198.1" x2="485.4" y2="198.1" stroke-width="2"/>
<line x1="491.4" y1="198.1" x2="502.3" y2="198.1" stroke-width="2"/>
<line x1="508.7" y1="198.1" x2="515.3" y2="198.1" stroke-width="2"/>
</g>
<g font-family="'Liberation Sans', sans-serif" font-size="25" fill="#000">
<text x="121.2" y="557.70" text-anchor="end">0</text>
<text x="121.2" y="468.03" text-anchor="end">0.002</text>
<text x="121.2" y="378.37" text-anchor="end">0.004</text>
<text x="121.2" y="288.70" text-anchor="end">0.006</text>
<text x="121.2" y="199.03" text-anchor="end">0.008</text>
<text x="121.2" y="109.37" text-anchor="end">0.01</text>
<text x="121.2" y="19.70" text-anchor="end">0.012</text>
<text x="139.40" y="582.5" text-anchor="middle">0</text>
<text x="247.08" y="582.5" text-anchor="middle">1</text>
<text x="354.76" y="582.5" text-anchor="middle">2</text>
<text x="462.44" y="582.5" text-anchor="middle">3</text>
<text x="570.12" y="582.5" text-anchor="middle">4</text>
<text x="677.80" y="582.5" text-anchor="middle">5</text>
</g>
<g font-family="'Liberation Serif', serif" fill="#000">
<text x="537.6" y="69.70" font-size="29">C</text>
<text x="556.5" y="78.90" font-size="17.5">s</text>
<text x="563" y="72.00" font-size="27">=</text>
<text x="578" y="69.70" font-size="27">0.20</text>
<text x="537.6" y="115.70" font-size="29">C</text>
<text x="556.5" y="124.90" font-size="17.5">s</text>
<text x="563" y="118.00" font-size="27">=</text>
<text x="578" y="115.70" font-size="27">0.15</text>
<text x="537.6" y="165.00" font-size="29">C</text>
<text x="556.5" y="174.20" font-size="17.5">s</text>
<text x="563" y="167.30" font-size="27">=</text>
<text x="578" y="165.00" font-size="27">0.10</text>
<text x="537.6" y="206.90" font-size="29">C</text>
<text x="556.5" y="216.10" font-size="17.5">s</text>
<text x="563" y="209.20" font-size="27">=</text>
<text x="578" y="206.90" font-size="27">0.05</text>
<text x="349.5" y="620" font-size="28.5" textLength="76.5" lengthAdjust="spacingAndGlyphs">Length</text>
<text x="437" y="620" font-size="28">(x)</text>
</g>
<g font-family="'Liberation Serif', serif" fill="#000" transform="rotate(-90)">
<text x="-354.45" y="28" font-size="29">C</text>
<text x="-336.2" y="37" font-size="17.5">c</text>
<text x="-328.3" y="28" font-size="27.5">(</text>
<text x="-320.2" y="28" font-size="27.5">x</text>
<text x="-307.1" y="28" font-size="27.5">)</text>
<text x="-290.2" y="26.5" font-size="27.5">-</text>
<text x="-274.0" y="28" font-size="29">C</text>
<text x="-256.1" y="37" font-size="17.5">c</text>
<text x="-248.3" y="28" font-size="27.5">(</text>
<text x="-240.4" y="28" font-size="27.5">x</text>
<text x="-226.4" y="28" font-size="27.5">)</text>
</g>
<line x1="2.4" y1="335.9" x2="2.4" y2="354.3" stroke="#000" stroke-width="1.6"/>
</svg>
</body></html>
